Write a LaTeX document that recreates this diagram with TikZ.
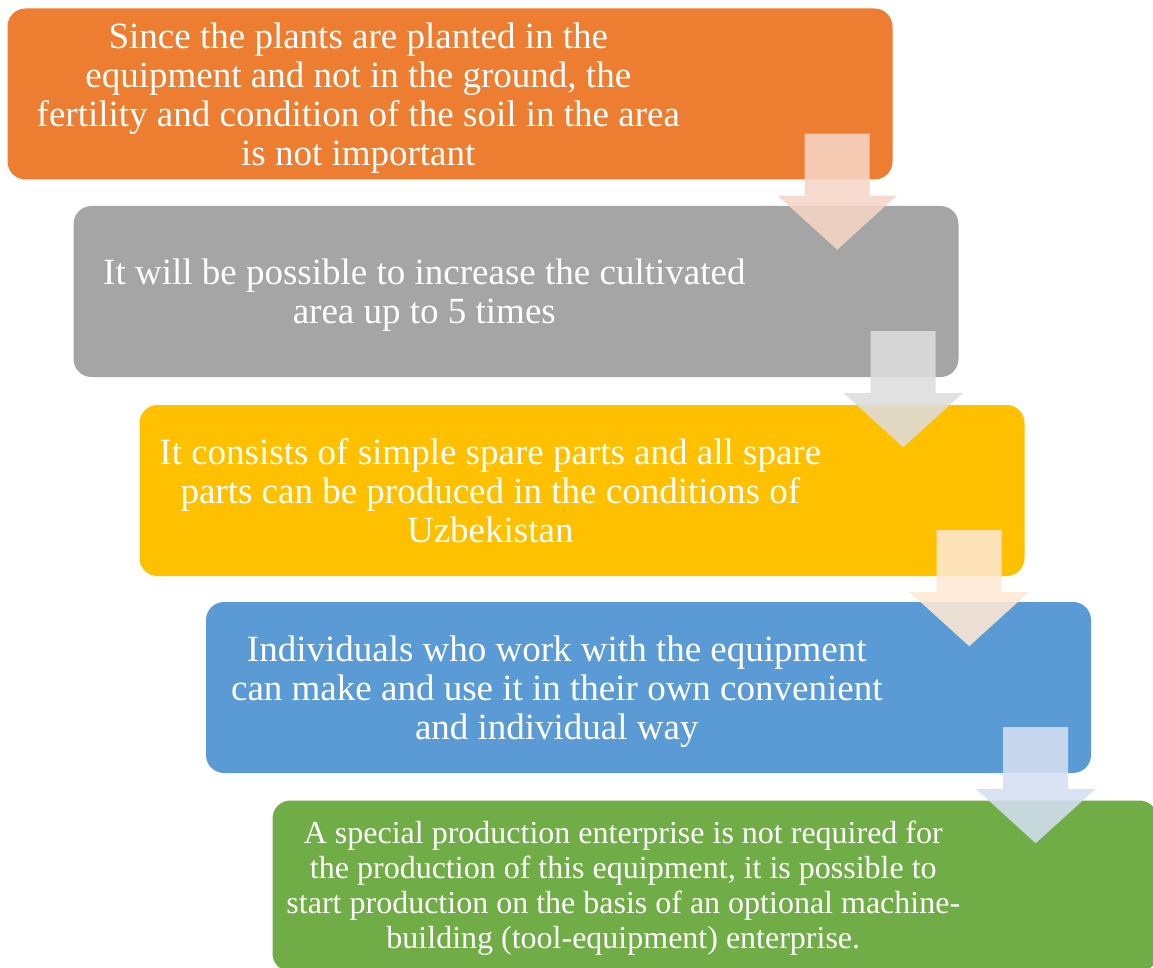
\documentclass[tikz,border=0pt]{standalone}
\usepackage{fontspec}
\setmainfont{Liberation Serif}
\usetikzlibrary{calc}

\definecolor{stepOrange}{HTML}{ED7D31}
\definecolor{stepGray}{HTML}{A5A5A5}
\definecolor{stepYellow}{HTML}{FFC000}
\definecolor{stepBlue}{HTML}{5B9BD5}
\definecolor{stepGreen}{HTML}{70AD47}
\definecolor{tintOrange}{HTML}{F5D5C6}
\definecolor{tintGray}{HTML}{DDDDDD}
\definecolor{tintYellow}{HTML}{FFE8D2}
\definecolor{tintBlue}{HTML}{D4DFF1}

\tikzset{
  stepbox/.style={rectangle, rounded corners=18pt, minimum width=885pt, minimum height=171pt, inner sep=0pt, draw=none},
  steptext/.style={text=white, align=center, inner sep=0pt, font=\fontsize{37}{39}\selectfont},
  steparrow/.style={draw=none, fill opacity=0.88},
}

% block arrow hanging from the lower right corner of a step
\newcommand{\stepArrow}[2]{%
  \fill[steparrow, fill=#2, shift={(#1.south east)}]
    (-88,-46) -- (-23,-46) -- (-23,16) -- (4,16) -- (-55.5,70) -- (-115,16) -- (-88,16) -- cycle;}

\begin{document}
\begin{tikzpicture}[x=1pt,y=-1pt]
\useasboundingbox (0,0) rectangle (1153,968);

% steps
\node[stepbox, fill=stepOrange] (b1) at (450,94) {};
\node[stepbox, fill=stepGray] (b2) at (516,291.5) {};
\node[stepbox, fill=stepYellow] (b3) at (582,490.5) {};
\node[stepbox, fill=stepBlue] (b4) at (648.5,687.5) {};
\node[stepbox, fill=stepGreen] (b5) at (715,886) {};

% texts
\node[steptext] (t1) at ($(b1.west)+(351,4)$) {Since the plants are planted in the\\ equipment and not in the ground, the\\ fertility and condition of the soil in the area\\ is not important};
\node[steptext] (t2) at ($(b2.west)+(351,4)$) {It will be possible to increase the cultivated\\ area up to 5 times};
\node[steptext] (t3) at ($(b3.west)+(351,0)$) {It consists of simple spare parts and all spare\\ parts can be produced in the conditions of\\ Uzbekistan};
\node[steptext] (t4) at ($(b4.west)+(351,4)$) {Individuals who work with the equipment\\ can make and use it in their own convenient\\ and individual way};
\node[steptext, font=\fontsize{32}{35}\selectfont] (t5) at ($(b5.west)+(351,2)$) {A special production enterprise is not required for\\ the production of this equipment, it is possible to\\ start production on the basis of an optional machine-\\ building (tool-equipment) enterprise.};

% arrows
\stepArrow{b1}{tintOrange}
\stepArrow{b2}{tintGray}
\stepArrow{b3}{tintYellow}
\stepArrow{b4}{tintBlue}
\end{tikzpicture}
\end{document}
